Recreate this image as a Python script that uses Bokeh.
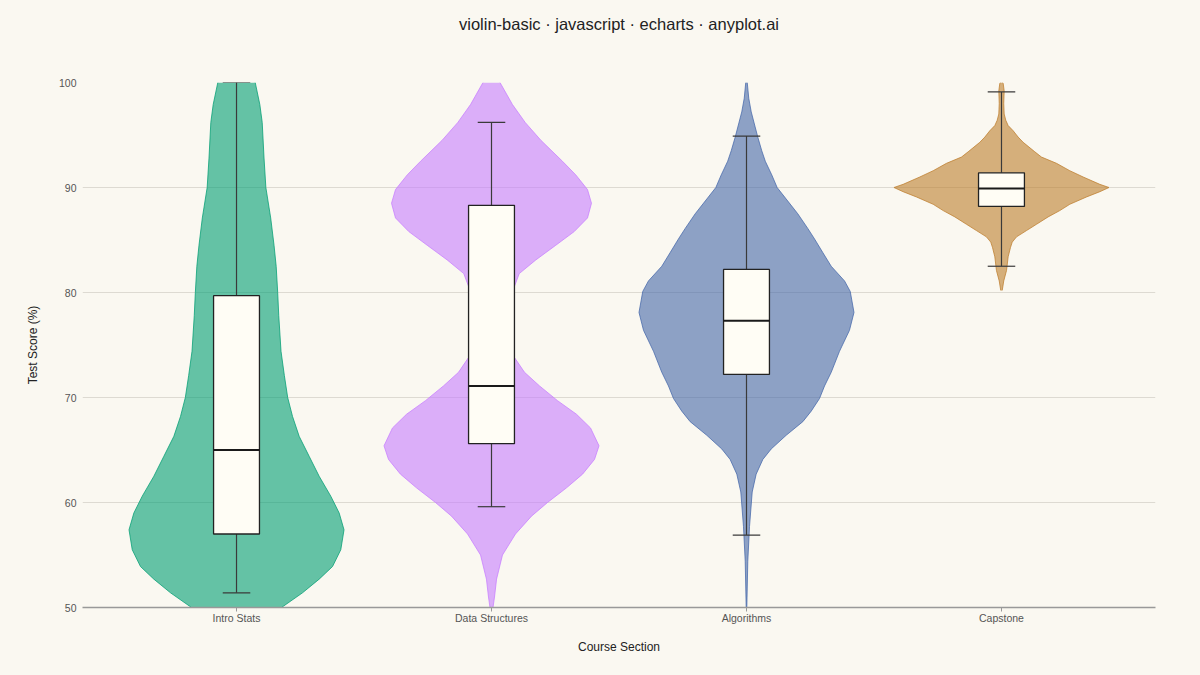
import numpy as np
from bokeh.plotting import figure
from bokeh.models import FixedTicker, Range1d, LinearAxis
from bokeh.embed import file_html
from bokeh.resources import INLINE

# ---------------- data ----------------
categories = ["Intro Stats", "Data Structures", "Algorithms", "Capstone"]
colors = ["#009E73", "#C77DFF", "#4467A9", "#BD7E2D"]

# violin outlines: score grid and relative density (1.0 = widest point)
intro_y = [50.0, 51.4, 52.7, 53.9, 55.5, 57.4, 59.0, 60.6, 62.5, 64.4, 66.3, 68.2, 70.0,
           72.1, 74.4, 77.8, 80.0, 82.5, 84.5, 87.1, 90.0, 92.8, 96.2, 97.9, 100.0]
intro_d = [0.419, 0.614, 0.769, 0.893, 0.970, 1.000, 0.955, 0.877, 0.769, 0.676, 0.583, 0.521, 0.476,
           0.445, 0.414, 0.393, 0.383, 0.369, 0.349, 0.318, 0.273, 0.256, 0.239, 0.217, 0.174]

ds_y = [50.0, 51.0, 52.7, 55.0, 57.0, 58.7, 60.0, 61.4, 62.7, 64.1, 65.4, 67.1, 68.4, 69.7,
        71.1, 72.4, 73.8, 74.8, 76.0, 77.5, 79.0, 80.6, 81.8, 83.1, 84.5, 85.8, 87.1, 88.5,
        89.8, 91.2, 92.5, 94.5, 96.2, 97.9, 100.0]
ds_d = [0.014, 0.028, 0.047, 0.102, 0.223, 0.372, 0.521, 0.698, 0.847, 0.958, 1.000, 0.921, 0.791, 0.614,
        0.447, 0.307, 0.214, 0.158, 0.121, 0.112, 0.149, 0.214, 0.258, 0.412, 0.598, 0.769, 0.893, 0.930,
        0.893, 0.784, 0.660, 0.459, 0.313, 0.195, 0.079]

alg_y = [50.0, 54.4, 57.7, 61.0, 62.7, 64.1, 65.1, 66.4, 67.7, 68.7, 69.9, 71.1, 72.4, 74.4,
         76.4, 78.1, 80.1, 81.1, 82.5, 83.8, 85.1, 86.1, 87.5, 90.0, 91.2, 92.5, 93.5, 94.8,
         97.2, 98.5, 100.0]
alg_d = [0.003, 0.012, 0.028, 0.053, 0.090, 0.152, 0.230, 0.369, 0.524, 0.602, 0.679, 0.726, 0.788, 0.865,
         0.958, 1.000, 0.965, 0.912, 0.788, 0.710, 0.633, 0.570, 0.477, 0.285, 0.235, 0.175, 0.142, 0.105,
         0.044, 0.021, 0.007]

cap_y = [80.2, 81.1, 82.1, 83.4, 84.3, 84.8, 85.3, 85.9, 86.5, 87.2, 87.8, 88.4, 89.1, 89.6,
         90.0, 90.3, 91.0, 91.6, 92.3, 92.9, 93.4, 94.3, 94.8, 95.4, 95.9, 96.4, 97.0, 98.0,
         99.2, 99.9, 100.0]
cap_d = [0.007, 0.021, 0.047, 0.062, 0.084, 0.100, 0.140, 0.233, 0.326, 0.434, 0.542, 0.635, 0.791, 0.915,
         1.000, 0.915, 0.760, 0.635, 0.512, 0.372, 0.310, 0.202, 0.155, 0.109, 0.062, 0.040, 0.025, 0.021,
         0.025, 0.016, 0.010]

violin_y = [intro_y, ds_y, alg_y, cap_y]
violin_d = [intro_d, ds_d, alg_d, cap_d]

# box plot statistics
whisker_low = [51.4, 59.6, 56.9, 82.5]
q1 = [57.0, 65.6, 72.2, 88.2]
median = [65.0, 71.1, 77.3, 89.9]
q3 = [79.7, 88.3, 82.2, 91.4]
whisker_high = [100.0, 96.2, 94.9, 99.1]

y_ticks = [50, 60, 70, 80, 90, 100]
title_text = "violin-basic \u00b7 javascript \u00b7 echarts \u00b7 anyplot.ai"

# ---------------- styling ----------------
BG = "#FAF8F1"
FONT = "Liberation Sans"
VIOLIN_HALF = 0.4216
BOX_HALF = 0.09
CAP_HALF = 0.054

W, H = 1200, 675
ML, MR, MT, MB = 82, 45, 82, 68

p = figure(width=W, height=H, output_backend="svg", toolbar_location=None,
           x_range=Range1d(-0.604, 3.604), y_range=Range1d(50, 100),
           min_border_left=ML, min_border_right=MR, min_border_top=MT, min_border_bottom=MB)
p.background_fill_color = BG
p.border_fill_color = BG
p.outline_line_color = None

# title drawn as the label of a tick-less axis above the frame
title_axis = LinearAxis(ticker=FixedTicker(ticks=[]), axis_label=title_text,
                        axis_line_color=None, major_tick_line_color=None,
                        minor_tick_line_color=None, major_tick_out=0, major_tick_in=0,
                        minor_tick_out=0, minor_tick_in=0, major_label_standoff=0,
                        axis_label_standoff=50, axis_label_text_font=FONT,
                        axis_label_text_font_size="16.5px", axis_label_text_font_style="normal",
                        axis_label_text_color="#222222")
p.add_layout(title_axis, "above")

centers = list(range(len(categories)))

for c, ys, ds, col in zip(centers, violin_y, violin_d, colors):
    ys = np.array(ys)
    ds = np.array(ds)
    left = c - ds * VIOLIN_HALF
    right = c + ds * VIOLIN_HALF
    p.harea(y=ys, x1=left, x2=right, fill_color=col, fill_alpha=0.6)
    p.line(right, ys, line_color=col, line_alpha=0.75, line_width=1)
    p.line(left, ys, line_color=col, line_alpha=0.75, line_width=1)

cx = np.array(centers, dtype=float)
# whiskers
p.segment(x0=cx, y0=whisker_low, x1=cx, y1=whisker_high, line_color="#3a3a3a", line_width=1.2)
p.segment(x0=cx - CAP_HALF, y0=whisker_low, x1=cx + CAP_HALF, y1=whisker_low,
          line_color="#3a3a3a", line_width=1.2)
p.segment(x0=cx - CAP_HALF, y0=whisker_high, x1=cx + CAP_HALF, y1=whisker_high,
          line_color="#3a3a3a", line_width=1.2)
# boxes
p.quad(left=cx - BOX_HALF, right=cx + BOX_HALF, bottom=q1, top=q3,
       fill_color="#FFFDF5", line_color="#222222", line_width=1.3)
p.segment(x0=cx - BOX_HALF, y0=median, x1=cx + BOX_HALF, y1=median,
          line_color="#1a1a1a", line_width=2)

# axes
xax = p.below[0]
yax = p.left[0]
xax.ticker = FixedTicker(ticks=centers)
xax.major_label_overrides = {i: n for i, n in enumerate(categories)}
xax.axis_label = "Course Section"
xax.axis_line_color = "#999999"
xax.axis_line_width = 1.5
xax.major_tick_line_color = "#999999"
xax.major_tick_out = 4
xax.major_tick_in = 0
xax.minor_tick_line_color = None
xax.major_label_standoff = 0
xax.axis_label_standoff = 13

yax.ticker = FixedTicker(ticks=y_ticks)
yax.axis_label = "Test Score (%)"
yax.axis_line_color = None
yax.major_tick_line_color = None
yax.minor_tick_line_color = None
yax.major_tick_out = 0
yax.major_label_standoff = 6
yax.axis_label_standoff = 16

for ax in (xax, yax):
    ax.major_label_text_font = FONT
    ax.major_label_text_font_size = "10.5px"
    ax.major_label_text_color = "#555555"
    ax.axis_label_text_font = FONT
    ax.axis_label_text_font_size = "12px"
    ax.axis_label_text_font_style = "normal"
    ax.axis_label_text_color = "#222222"

p.xgrid.grid_line_color = None
p.ygrid.grid_line_color = "#DDDAD2"
p.ygrid.grid_line_width = 1

html = file_html(p, INLINE)
html = html.replace("<head>", "<head><style>html,body{background:%s;}</style>" % BG, 1)
open("out.html", "w").write(html)
